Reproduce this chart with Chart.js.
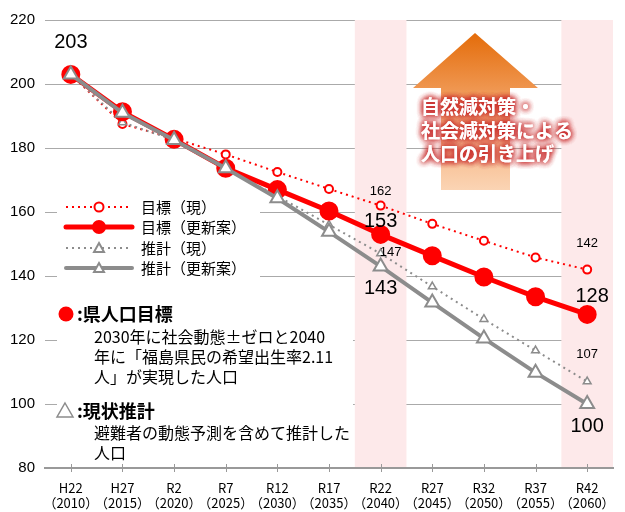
<!DOCTYPE html>
<html>
<head>
<meta charset="utf-8">
<script src="https://cdn.jsdelivr.net/npm/chart.js@4.4.0/dist/chart.umd.min.js"></script>
<style>
  body { margin: 0; background: #fff; }
  #wrap { width: 625px; height: 512px; }
</style>
</head>
<body>
<div id="wrap"><canvas id="pop_chart" width="625" height="512"></canvas></div>
<script>
// categories (two-line labels)
const years = [['H22', '（2010）'], ['H27', '（2015）'], ['R2', '（2020）'], ['R7', '（2025）'],
    ['R12', '（2030）'], ['R17', '（2035）'], ['R22', '（2040）'], ['R27', '（2045）'],
    ['R32', '（2050）'], ['R37', '（2055）'], ['R42', '（2060）']];

// population (10k persons)
const targetOld = [203, 187.5, 183, 178, 172.5, 167.2, 162, 156.3, 151, 145.8, 142];
const targetNew = [203, 191.3, 182.7, 173.7, 167, 160.3, 153, 146.3, 139.7, 133.5, 128];
const estOld = [203, 188, 182.5, 173.5, 165, 156, 147, 136.7, 126.5, 116.7, 107];
const estNew = [203, 191, 182.5, 173.7, 164.3, 153.8, 143, 131.7, 120.5, 109.8, 100];

const yTicks = [80, 100, 120, 140, 160, 180, 200, 220];
const bandCats = [6, 10];   // R22, R42 highlighted

const JP = '"Noto Sans CJK JP", sans-serif';
const NUM = '"Liberation Sans", Arial, sans-serif';

// pink bands, white boxes, arrow, legend, notes
const decor = {
    id: 'decor',
    beforeDatasetsDraw(chart) {
        const ctx = chart.ctx;
        const x = chart.scales.x;
        const area = chart.chartArea;
        const step = x.getPixelForValue(1) - x.getPixelForValue(0);
        ctx.save();

        // bands
        ctx.fillStyle = '#fde9ea';
        bandCats.forEach(i => {
            let cx = x.getPixelForValue(i);
            ctx.fillRect(cx - step / 2, area.top, step, area.bottom - area.top - 1);
        });

        // white boxes behind legend and notes
        ctx.fillStyle = '#fff';
        ctx.fillRect(57, 196, 203, 84);
        ctx.fillRect(57, 296, 296, 164);

        // arrow
        let g = ctx.createLinearGradient(0, 33, 0, 190);
        g.addColorStop(0, '#e46c0a');
        g.addColorStop(0.45, '#f2a162');
        g.addColorStop(1, '#fbd4b4');
        ctx.fillStyle = g;
        ctx.beginPath();
        ctx.moveTo(475, 33);
        ctx.lineTo(538, 88);
        ctx.lineTo(510, 88);
        ctx.lineTo(510, 190);
        ctx.lineTo(441, 190);
        ctx.lineTo(441, 88);
        ctx.lineTo(413, 88);
        ctx.closePath();
        ctx.fill();

        // arrow text with red glow
        ctx.font = 'bold 19px ' + JP;
        ctx.textAlign = 'left';
        ctx.textBaseline = 'middle';
        const lines = ['自然減対策・', '社会減対策による', '人口の引き上げ'];
        const ly = [107, 131, 154];
        ctx.shadowColor = 'rgba(200,40,40,0.9)';
        ctx.shadowBlur = 6;
        ctx.fillStyle = '#fff';
        for (let k = 0; k < 4; k++) {
            lines.forEach((t, i) => ctx.fillText(t, 421, ly[i]));
        }
        ctx.shadowBlur = 0;
        ctx.shadowColor = 'transparent';

        // x axis tick marks
        ctx.strokeStyle = '#999';
        ctx.lineWidth = 1;
        years.forEach((c, i) => {
            let cx = Math.round(x.getPixelForValue(i)) + 0.5;
            ctx.beginPath();
            ctx.moveTo(cx, area.bottom - 4);
            ctx.lineTo(cx, area.bottom + 4);
            ctx.stroke();
        });

        // legend
        const rows = [
            {y: 207, color: 'red', width: 2, dash: [2, 4], pt: 'circle', r: 4.5, fill: '#fff', text: '目標（現）'},
            {y: 227, color: 'red', width: 5, dash: [], pt: 'circle', r: 6, fill: 'red', text: '目標（更新案）'},
            {y: 248, color: '#8c8c8c', width: 2, dash: [2, 4], pt: 'tri', r: 5, fill: '#fff', text: '推計（現）'},
            {y: 268, color: '#8c8c8c', width: 4, dash: [], pt: 'tri', r: 5, fill: '#fff', text: '推計（更新案）'}
        ];
        rows.forEach(r => {
            ctx.strokeStyle = r.color;
            ctx.lineWidth = r.width;
            ctx.setLineDash(r.dash);
            ctx.lineCap = r.dash.length ? 'butt' : 'round';
            ctx.beginPath();
            ctx.moveTo(66, r.y);
            ctx.lineTo(132, r.y);
            ctx.stroke();
            ctx.setLineDash([]);
            ctx.lineWidth = 2;
            ctx.fillStyle = r.fill;
            ctx.beginPath();
            if (r.pt === 'circle') {
                ctx.arc(99, r.y, r.r, 0, Math.PI * 2);
            } else {
                ctx.moveTo(99, r.y - r.r);
                ctx.lineTo(99 + r.r, r.y + r.r * 0.8);
                ctx.lineTo(99 - r.r, r.y + r.r * 0.8);
                ctx.closePath();
            }
            ctx.fill();
            ctx.stroke();
            ctx.fillStyle = '#000';
            ctx.font = '15px ' + JP;
            ctx.fillText(r.text, 141, r.y);
        });
        ctx.lineCap = 'butt';

        // notes
        ctx.fillStyle = 'red';
        ctx.beginPath();
        ctx.arc(66, 314, 7.5, 0, Math.PI * 2);
        ctx.fill();
        ctx.strokeStyle = '#8c8c8c';
        ctx.lineWidth = 1.5;
        ctx.beginPath();
        ctx.moveTo(65, 403);
        ctx.lineTo(73, 417);
        ctx.lineTo(57, 417);
        ctx.closePath();
        ctx.stroke();

        ctx.fillStyle = '#000';
        ctx.font = 'bold 18px ' + JP;
        ctx.fillText(':県人口目標', 77, 314);
        ctx.fillText(':現状推計', 77, 411);
        ctx.font = '16px ' + JP;
        ctx.fillText('2030年に社会動態±ゼロと2040', 94, 337);
        ctx.fillText('年に「福島県民の希望出生率2.11', 94, 357);
        ctx.fillText('人」が実現した人口', 94, 377);
        ctx.fillText('避難者の動態予測を含めて推計した', 94, 433);
        ctx.fillText('人口', 94, 453);

        ctx.restore();
    },
    afterDatasetsDraw(chart) {
        const ctx = chart.ctx;
        const x = chart.scales.x, y = chart.scales.y;
        ctx.save();
        ctx.fillStyle = '#000';
        ctx.textAlign = 'center';
        ctx.textBaseline = 'middle';
        const big = [[0, 203, 0, -32], [6, targetNew[6], 0, -13], [6, estNew[6], 0, 22], [10, targetNew[10], 5, -18], [10, estNew[10], 0, 22]];
        const small = [[6, targetOld[6], 0, -14], [6, estOld[6], 10, -1], [10, targetOld[10], 0, -26], [10, estOld[10], 0, -27]];
        ctx.font = '20px ' + NUM;
        big.forEach(b => ctx.fillText(String(Math.round(b[1])), x.getPixelForValue(b[0]) + b[2], y.getPixelForValue(b[1]) + b[3]));
        ctx.font = '13px ' + NUM;
        small.forEach(b => ctx.fillText(String(Math.round(b[1])), x.getPixelForValue(b[0]) + b[2], y.getPixelForValue(b[1]) + b[3]));
        ctx.restore();
    }
};

new Chart(document.getElementById('pop_chart'), {
    type: 'line',
    data: {
        labels: years,
        datasets: [
            {
                label: '推計（更新案）',
                data: estNew,
                borderColor: '#8c8c8c',
                borderWidth: 4,
                pointStyle: 'triangle',
                pointRadius: 8,
                pointBackgroundColor: '#fff',
                pointBorderColor: '#8c8c8c',
                pointBorderWidth: 2,
                tension: 0
            },
            {
                label: '目標（更新案）',
                data: targetNew,
                borderColor: 'red',
                borderWidth: 5,
                pointStyle: 'circle',
                pointRadius: 7,
                pointBackgroundColor: 'red',
                pointBorderColor: 'red',
                tension: 0
            },
            {
                label: '推計（現）',
                data: estOld,
                borderColor: '#8c8c8c',
                borderWidth: 2,
                borderDash: [2, 4],
                pointStyle: 'triangle',
                pointRadius: 4.5,
                pointBackgroundColor: '#fff',
                pointBorderColor: '#8c8c8c',
                pointBorderWidth: 1.5,
                tension: 0
            },
            {
                label: '目標（現）',
                data: targetOld,
                borderColor: 'red',
                borderWidth: 2,
                borderDash: [2, 4],
                pointStyle: 'circle',
                pointRadius: 4,
                pointBackgroundColor: '#fff',
                pointBorderColor: 'red',
                pointBorderWidth: 2,
                tension: 0
            }
        ]
    },
    options: {
        responsive: false,
        animation: false,
        layout: { padding: { top: 20, right: 5, left: 0, bottom: 0 } },
        plugins: {
            legend: { display: false },
            tooltip: { enabled: false }
        },
        scales: {
            x: {
                offset: true,
                grid: { display: false },
                border: { display: true, color: '#999', width: 2 },
                ticks: {
                    color: '#000',
                    font: { family: JP, size: 13 },
                    padding: 4,
                    maxRotation: 0,
                    autoSkip: false
                },
                afterFit(scale) {
                    scale.height = 44;
                    scale.paddingLeft = 0;
                    scale.paddingRight = 0;
                }
            },
            y: {
                min: 80,
                max: 220,
                afterBuildTicks(scale) { scale.ticks = yTicks.map(v => ({value: v})); },
                grid: { color: '#aaa', lineWidth: 1, drawTicks: false },
                border: { display: false },
                ticks: {
                    color: '#000',
                    font: { family: NUM, size: 15 },
                    padding: 10
                },
                afterFit(scale) {
                    scale.width = 45;
                    scale.paddingTop = 0;
                    scale.paddingBottom = 0;
                }
            }
        }
    },
    plugins: [decor]
});
</script>
</body>
</html>
